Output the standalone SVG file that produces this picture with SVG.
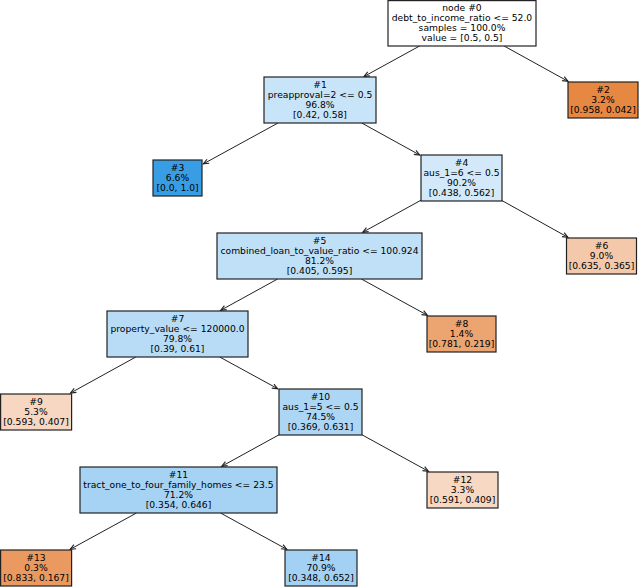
<svg xmlns="http://www.w3.org/2000/svg" width="640" height="587" viewBox="0 0 640 587">
<style>
.box{stroke:#222;stroke-width:1.2}
text{font-family:"DejaVu Sans","Liberation Sans",sans-serif;font-size:9.2px;fill:#000;text-anchor:middle}
.edge{stroke:#222;stroke-width:1;fill:none;marker-end:url(#ah)}
</style>
<defs>
<marker id="ah" markerUnits="userSpaceOnUse" markerWidth="10" markerHeight="10" viewBox="-7 -5 9 10" refX="0" refY="0" orient="auto">
<path d="M-5.5,-2.3 L0,0 L-5.5,2.3" fill="none" stroke="#222" stroke-width="1.1"/>
</marker>
</defs>
<rect width="640" height="587" fill="#fff"/>
<g id="connectors">
<line class="edge" x1="419.6" y1="46" x2="364" y2="76.5"/>
<line class="edge" x1="504.1" y1="46" x2="568" y2="81.3"/>
<line class="edge" x1="278" y1="123" x2="203.3" y2="163.9"/>
<line class="edge" x1="361.7" y1="123" x2="419.7" y2="155"/>
<line class="edge" x1="421" y1="200.2" x2="362.7" y2="232.3"/>
<line class="edge" x1="502" y1="200.6" x2="567.9" y2="237.3"/>
<line class="edge" x1="277.6" y1="279" x2="220.7" y2="310.3"/>
<line class="edge" x1="361.4" y1="279" x2="427.4" y2="315.3"/>
<line class="edge" x1="135.8" y1="357" x2="70.5" y2="393"/>
<line class="edge" x1="219.7" y1="357" x2="277.7" y2="388.7"/>
<line class="edge" x1="279" y1="434.8" x2="221.7" y2="466.3"/>
<line class="edge" x1="362" y1="434.8" x2="428.4" y2="471.3"/>
<line class="edge" x1="136.5" y1="513" x2="70.2" y2="549.3"/>
<line class="edge" x1="220.5" y1="513" x2="286.8" y2="549.3"/>
</g>
<g id="node0">
<rect class="box" x="388" y="0.6" width="148" height="45.4" fill="#ffffff"/>
<text x="462" y="10.5">node #0</text>
<text x="462" y="20.7">debt_to_income_ratio &lt;= 52.0</text>
<text x="462" y="30.9">samples = 100.0%</text>
<text x="462" y="41.1">value = [0.5, 0.5]</text>
</g>
<g id="node1">
<rect class="box" x="264" y="77" width="112" height="46" fill="#c8e4f8"/>
<text x="320" y="87.5">#1</text>
<text x="320" y="97.7">preapproval=2 &lt;= 0.5</text>
<text x="320" y="107.9">96.8%</text>
<text x="320" y="118.1">[0.42, 0.58]</text>
</g>
<g id="node2">
<rect class="box" x="568" y="82" width="70" height="36" fill="#e68742"/>
<text x="603" y="92.6">#2</text>
<text x="603" y="102.8">3.2%</text>
<text x="603" y="113">[0.958, 0.042]</text>
</g>
<g id="node3">
<rect class="box" x="153" y="160" width="49" height="36" fill="#399de5"/>
<text x="177.5" y="170.6">#3</text>
<text x="177.5" y="180.8">6.6%</text>
<text x="177.5" y="191">[0.0, 1.0]</text>
</g>
<g id="node4">
<rect class="box" x="421" y="155" width="81" height="46" fill="#d3e9f9"/>
<text x="461.5" y="165.5">#4</text>
<text x="461.5" y="175.7">aus_1=6 &lt;= 0.5</text>
<text x="461.5" y="185.9">90.2%</text>
<text x="461.5" y="196.1">[0.438, 0.562]</text>
</g>
<g id="node5">
<rect class="box" x="217" y="233" width="205" height="46" fill="#c0e0f7"/>
<text x="319.5" y="243.5">#5</text>
<text x="319.5" y="253.7">combined_loan_to_value_ratio &lt;= 100.924</text>
<text x="319.5" y="263.9">81.2%</text>
<text x="319.5" y="274.1">[0.405, 0.595]</text>
</g>
<g id="node6">
<rect class="box" x="566.5" y="238" width="70" height="36" fill="#f4c9ab"/>
<text x="601.5" y="248.6">#6</text>
<text x="601.5" y="258.8">9.0%</text>
<text x="601.5" y="269">[0.635, 0.365]</text>
</g>
<g id="node7">
<rect class="box" x="107" y="311" width="141" height="46" fill="#b8dcf6"/>
<text x="177.5" y="321.5">#7</text>
<text x="177.5" y="331.7">property_value &lt;= 120000.0</text>
<text x="177.5" y="341.9">79.8%</text>
<text x="177.5" y="352.1">[0.39, 0.61]</text>
</g>
<g id="node8">
<rect class="box" x="427" y="316" width="69" height="36" fill="#eca471"/>
<text x="461.5" y="326.6">#8</text>
<text x="461.5" y="336.8">1.4%</text>
<text x="461.5" y="347">[0.781, 0.219]</text>
</g>
<g id="node9">
<rect class="box" x="0.6" y="394" width="71" height="36" fill="#f7d7c1"/>
<text x="36" y="404.6">#9</text>
<text x="36" y="414.8">5.3%</text>
<text x="36" y="425">[0.593, 0.407]</text>
</g>
<g id="node10">
<rect class="box" x="279" y="389" width="83" height="46" fill="#add6f4"/>
<text x="320.5" y="399.5">#10</text>
<text x="320.5" y="409.7">aus_1=5 &lt;= 0.5</text>
<text x="320.5" y="419.9">74.5%</text>
<text x="320.5" y="430.1">[0.369, 0.631]</text>
</g>
<g id="node11">
<rect class="box" x="80" y="467" width="197" height="46" fill="#a6d3f3"/>
<text x="178.5" y="477.5">#11</text>
<text x="178.5" y="487.7">tract_one_to_four_family_homes &lt;= 23.5</text>
<text x="178.5" y="497.9">71.2%</text>
<text x="178.5" y="508.1">[0.354, 0.646]</text>
</g>
<g id="node12">
<rect class="box" x="427" y="472" width="71" height="36" fill="#f7d8c2"/>
<text x="462.5" y="482.6">#12</text>
<text x="462.5" y="492.8">3.3%</text>
<text x="462.5" y="503">[0.591, 0.409]</text>
</g>
<g id="node13">
<rect class="box" x="0.6" y="550" width="71" height="36" fill="#ea9a61"/>
<text x="36" y="560.6">#13</text>
<text x="36" y="570.8">0.3%</text>
<text x="36" y="581">[0.833, 0.167]</text>
</g>
<g id="node14">
<rect class="box" x="285" y="550" width="72" height="36" fill="#a3d1f3"/>
<text x="321" y="560.6">#14</text>
<text x="321" y="570.8">70.9%</text>
<text x="321" y="581">[0.348, 0.652]</text>
</g>
</svg>
